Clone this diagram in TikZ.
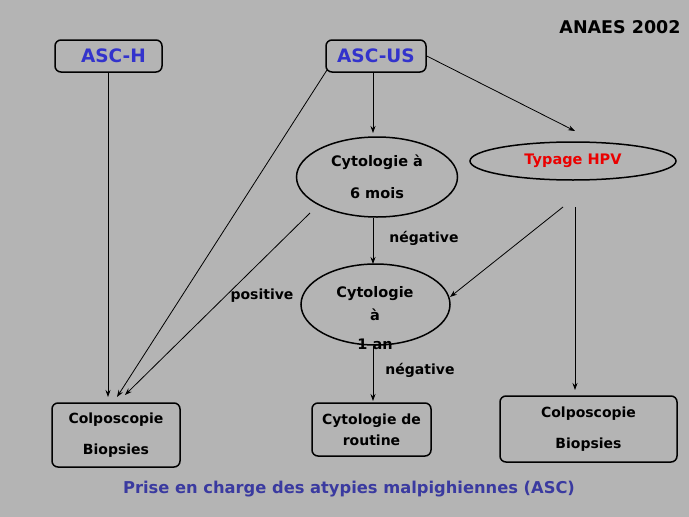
\documentclass[tikz,border=0pt]{standalone}
\usepackage{fontspec}
\setmainfont{DejaVu Sans}
\usetikzlibrary{shapes.geometric,arrows.meta}
\definecolor{bg}{RGB}{180,180,180}
\definecolor{ascblue}{RGB}{51,51,204}
\definecolor{titleblue}{RGB}{58,58,160}
\definecolor{hpvred}{RGB}{235,0,0}
\begin{document}
\begin{tikzpicture}[x=1pt,y=-1pt,
  box/.style={draw,rounded corners=6pt,line width=1.5pt,inner sep=0pt},
  oval/.style={draw,ellipse,line width=1.5pt,inner sep=0pt},
  txt/.style={font=\bfseries\fontsize{14}{31}\selectfont,align=center,inner sep=0pt},
  arr/.style={-{Stealth[length=7pt,width=5pt]},line width=0.8pt},
  lab/.style={font=\bfseries\fontsize{14}{16}\selectfont,inner sep=0pt}]
\fill[bg] (0,0) rectangle (689,517);
\useasboundingbox (0,0) rectangle (689,517);

\node[font=\bfseries\fontsize{17.5}{19}\selectfont] (anaes) at (620,27) {ANAES 2002};

\node[box,minimum width=107pt,minimum height=32pt,text=ascblue,font=\bfseries\fontsize{18.5}{20}\selectfont] (asch) at (108.5,56) {\hspace*{10pt}ASC-H};
\node[box,minimum width=100pt,minimum height=32pt,text=ascblue,font=\bfseries\fontsize{18.5}{20}\selectfont] (ascus) at (376,56) {ASC-US};

\node[oval,minimum width=161pt,minimum height=80pt] (c6) at (377,177) {};
\node[txt,font=\bfseries\fontsize{14.5}{32}\selectfont] (c6t) at (377,177) {Cytologie à\\6 mois};

\node[oval,minimum width=206pt,minimum height=38pt] (hpv) at (573,161) {};
\node[txt,text=hpvred,font=\bfseries\fontsize{14.5}{16}\selectfont] (hpvt) at (573,161) {Typage HPV};

\node[oval,minimum width=149pt,minimum height=81pt] (c1) at (375.5,304.5) {};
\node[txt,font=\bfseries\fontsize{14.5}{26}\selectfont] (c1t) at (375,318) {Cytologie\\[-3pt]à\\[3pt]1 an};

\node[box,minimum width=128pt,minimum height=64pt] (colpL) at (116,435) {};
\node[txt] (colpLt) at (116,435) {Colposcopie\\Biopsies};

\node[box,minimum width=119pt,minimum height=53pt] (rout) at (371.5,429.5) {};
\node[txt,font=\bfseries\fontsize{14}{21}\selectfont] (routt) at (371.5,429.5) {Cytologie de\\routine};

\node[box,minimum width=177pt,minimum height=66pt] (colpR) at (588.5,429) {};
\node[txt] (colpRt) at (588.5,429) {Colposcopie\\Biopsies};

\node[font=\bfseries\fontsize{16.3}{18}\selectfont,text=titleblue] (title) at (349,489) {Prise en charge des atypies malpighiennes (ASC)};

% free ends
\coordinate (usL) at (327,70);
\coordinate (endL1) at (117,397);
\coordinate (c6s) at (310,213);
\coordinate (endL2) at (125,395);
\coordinate (hpvtop) at (575,131);
\coordinate (hpvd) at (563,207);
\coordinate (hpvv) at (575,207);

\draw[arr] (asch.south -| 108,0) -- (108,397);
\draw[arr] (usL) -- (endL1);
\draw[arr] (c6s) -- (endL2);
\draw[arr] (ascus.south -| 373,0) -- (373,133);
\draw[arr] (ascus.east) -- (hpvtop);
\draw[arr] (c6.south -| 373,0) -- (373,264);
\draw[arr] (hpvd) -- (450,297);
\draw[arr] (hpvv) -- (575,390);
\draw[arr] (c1.south -| 373,0) -- (373,401);

\node[lab] (neg1) at (424,238) {négative};
\node[lab] (pos) at (262,296) {positive};
\node[lab] (neg2) at (420,370) {négative};
\end{tikzpicture}
\end{document}
